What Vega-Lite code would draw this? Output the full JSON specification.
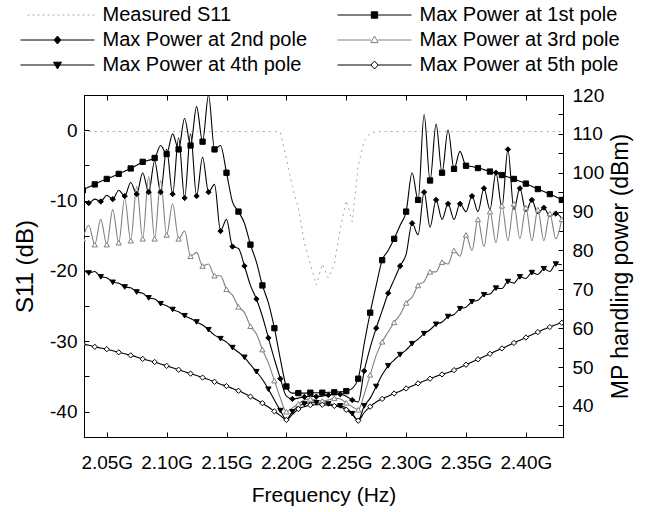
{
  "$schema": "https://vega.github.io/schema/vega-lite/v6.json",
  "width": 479,
  "height": 342,
  "autosize": {"type": "none"},
  "padding": {"left": 84, "top": 95, "right": 88, "bottom": 75},
  "background": "white",
  "config": {
    "view": {"stroke": "black", "strokeWidth": 1},
    "axis": {
      "labelFont": "Liberation Sans", "titleFont": "Liberation Sans",
      "labelFontSize": 19, "titleFontSize": 21, "titleFontWeight": "normal",
      "labelColor": "black", "titleColor": "black",
      "domainColor": "black", "tickColor": "black", "domainWidth": 1, "tickWidth": 1,
      "grid": false, "tickSize": -5, "labelFlush": false, "labelOverlap": false
    },
    "legend": {"labelFont": "Liberation Sans"}
  },
  "datasets": {
    "d": [
      {"f":2.030,"s11":-0.2,"p1":95.5,"p2":92.5,"p3":83,"p4":75.2,"p5":55.9},
      {"f":2.035,"s11":-0.2,"p1":96.3,"p2":92.2,"p3":86.5,"p4":74.2,"p5":55.6},
      {"f":2.040,"s11":-0.2,"p1":97.0,"p2":93.2,"p3":81.5,"p4":74.6,"p5":55.2},
      {"f":2.045,"s11":-0.2,"p1":97.8,"p2":92.6,"p3":88,"p4":73.2,"p5":54.9},
      {"f":2.050,"s11":-0.2,"p1":98.4,"p2":94.2,"p3":81.5,"p4":73.0,"p5":54.6},
      {"f":2.055,"s11":-0.2,"p1":99.0,"p2":93.2,"p3":90.5,"p4":71.8,"p5":54.2},
      {"f":2.060,"s11":-0.2,"p1":99.7,"p2":95.5,"p3":82,"p4":71.6,"p5":53.8},
      {"f":2.065,"s11":-0.2,"p1":100.4,"p2":94,"p3":93.5,"p4":70.6,"p5":53.4},
      {"f":2.070,"s11":-0.2,"p1":101.1,"p2":97.5,"p3":82.5,"p4":70.4,"p5":53},
      {"f":2.075,"s11":-0.2,"p1":101.9,"p2":94.5,"p3":96.5,"p4":69.3,"p5":52.6},
      {"f":2.080,"s11":-0.2,"p1":102.8,"p2":100,"p3":83,"p4":69,"p5":52.1},
      {"f":2.085,"s11":-0.2,"p1":103.2,"p2":95,"p3":99,"p4":67.8,"p5":51.7},
      {"f":2.090,"s11":-0.2,"p1":103.8,"p2":103,"p3":83,"p4":67.5,"p5":51.3},
      {"f":2.095,"s11":-0.2,"p1":107,"p2":95,"p3":98,"p4":66.3,"p5":50.8},
      {"f":2.100,"s11":-0.2,"p1":104.8,"p2":106,"p3":84,"p4":65.8,"p5":50.3},
      {"f":2.105,"s11":-0.2,"p1":110,"p2":94.5,"p3":92,"p4":64.8,"p5":49.8},
      {"f":2.110,"s11":-0.2,"p1":106,"p2":109,"p3":83,"p4":64.2,"p5":49.3},
      {"f":2.115,"s11":-0.2,"p1":114,"p2":93.5,"p3":85,"p4":63.2,"p5":48.8},
      {"f":2.120,"s11":-0.2,"p1":107,"p2":110,"p3":78.5,"p4":62.5,"p5":48.3},
      {"f":2.125,"s11":-0.2,"p1":117,"p2":94,"p3":79.5,"p4":61.6,"p5":47.8},
      {"f":2.130,"s11":-0.2,"p1":108,"p2":104,"p3":76,"p4":60.8,"p5":47.3},
      {"f":2.135,"s11":-0.2,"p1":120,"p2":95,"p3":76.5,"p4":59.6,"p5":46.8},
      {"f":2.140,"s11":-0.2,"p1":106,"p2":97,"p3":73.5,"p4":58.2,"p5":46.2},
      {"f":2.145,"s11":-0.2,"p1":107,"p2":85,"p3":73.5,"p4":57.3,"p5":45.6},
      {"f":2.150,"s11":-0.2,"p1":100,"p2":88,"p3":70,"p4":56.4,"p5":45.1},
      {"f":2.155,"s11":-0.2,"p1":92.5,"p2":81,"p3":68.5,"p4":55,"p5":44.5},
      {"f":2.160,"s11":-0.2,"p1":90,"p2":80.5,"p3":65.5,"p4":53.8,"p5":43.9},
      {"f":2.165,"s11":-0.2,"p1":87,"p2":76,"p3":64,"p4":52.5,"p5":43.2},
      {"f":2.170,"s11":-0.2,"p1":81.5,"p2":71,"p3":60.5,"p4":50.6,"p5":42.4},
      {"f":2.175,"s11":-0.2,"p1":77,"p2":67.5,"p3":58.5,"p4":48.8,"p5":41.6},
      {"f":2.180,"s11":-0.2,"p1":71,"p2":63,"p3":54.5,"p4":46.8,"p5":40.7},
      {"f":2.185,"s11":-0.2,"p1":66.5,"p2":57.5,"p3":51,"p4":44.3,"p5":39.7},
      {"f":2.190,"s11":-0.2,"p1":60,"p2":52,"p3":46.5,"p4":41.5,"p5":38.6},
      {"f":2.195,"s11":-0.3,"p1":52,"p2":47,"p3":42,"p4":38.8,"p5":37.5},
      {"f":2.200,"s11":-4,"p1":45,"p2":42.5,"p3":38.5,"p4":36.5,"p5":36.4},
      {"f":2.205,"s11":-8,"p1":43.3,"p2":41.8,"p3":39.5,"p4":38.5,"p5":37.8},
      {"f":2.210,"s11":-11,"p1":43.3,"p2":42,"p3":40.5,"p4":40,"p5":39.2},
      {"f":2.215,"s11":-16,"p1":43.3,"p2":42.3,"p3":41.5,"p4":40.5,"p5":39.8},
      {"f":2.220,"s11":-19,"p1":43.4,"p2":42.5,"p3":41.8,"p4":40.8,"p5":40.2},
      {"f":2.225,"s11":-22,"p1":43.4,"p2":42.4,"p3":41.5,"p4":40.8,"p5":40.3},
      {"f":2.230,"s11":-19,"p1":43.4,"p2":42.5,"p3":41.3,"p4":40.6,"p5":40.3},
      {"f":2.235,"s11":-21,"p1":43.5,"p2":42.8,"p3":41.5,"p4":40.5,"p5":40.2},
      {"f":2.240,"s11":-19,"p1":43.5,"p2":43,"p3":42,"p4":40.3,"p5":40},
      {"f":2.245,"s11":-14,"p1":43.6,"p2":43,"p3":41.8,"p4":40,"p5":39.7},
      {"f":2.250,"s11":-10,"p1":43.8,"p2":42.5,"p3":40.8,"p4":39.5,"p5":39},
      {"f":2.255,"s11":-13,"p1":44.5,"p2":41.5,"p3":39.8,"p4":38,"p5":37.8},
      {"f":2.260,"s11":-5,"p1":47,"p2":41,"p3":39,"p4":36.3,"p5":36.2},
      {"f":2.265,"s11":-1.5,"p1":56,"p2":49,"p3":43,"p4":40,"p5":38.3},
      {"f":2.270,"s11":-0.4,"p1":64,"p2":55,"p3":48,"p4":42,"p5":39.8},
      {"f":2.275,"s11":-0.2,"p1":71,"p2":60,"p3":53,"p4":45,"p5":41},
      {"f":2.280,"s11":-0.2,"p1":77.5,"p2":64.5,"p3":56.5,"p4":48,"p5":41.8},
      {"f":2.285,"s11":-0.2,"p1":80,"p2":69,"p3":59,"p4":50.3,"p5":42.5},
      {"f":2.290,"s11":-0.2,"p1":83,"p2":72.5,"p3":61.5,"p4":51.8,"p5":43.2},
      {"f":2.295,"s11":-0.2,"p1":86.5,"p2":76,"p3":63.5,"p4":53.2,"p5":43.8},
      {"f":2.300,"s11":-0.2,"p1":90,"p2":79,"p3":66.5,"p4":54.4,"p5":44.5},
      {"f":2.305,"s11":-0.2,"p1":100,"p2":87,"p3":68,"p4":56,"p5":45.1},
      {"f":2.310,"s11":-0.2,"p1":93,"p2":84,"p3":71,"p4":57.2,"p5":45.8},
      {"f":2.315,"s11":-0.2,"p1":115,"p2":95,"p3":72,"p4":58.6,"p5":46.4},
      {"f":2.320,"s11":-0.2,"p1":98,"p2":86,"p3":74.5,"p4":59.6,"p5":47},
      {"f":2.325,"s11":-0.2,"p1":112.5,"p2":93,"p3":74.5,"p4":61,"p5":47.6},
      {"f":2.330,"s11":-0.2,"p1":100,"p2":88,"p3":77,"p4":61.6,"p5":48.1},
      {"f":2.335,"s11":-0.2,"p1":111,"p2":92,"p3":76.5,"p4":63,"p5":48.6},
      {"f":2.340,"s11":-0.2,"p1":101,"p2":88,"p3":80,"p4":63.5,"p5":49.2},
      {"f":2.345,"s11":-0.2,"p1":105.5,"p2":92,"p3":78.5,"p4":65,"p5":49.9},
      {"f":2.350,"s11":-0.2,"p1":101.8,"p2":90,"p3":84,"p4":65.4,"p5":50.6},
      {"f":2.355,"s11":-0.2,"p1":101.6,"p2":94,"p3":80,"p4":66.8,"p5":51.3},
      {"f":2.360,"s11":-0.2,"p1":101.2,"p2":90,"p3":88,"p4":67.2,"p5":52},
      {"f":2.365,"s11":-0.2,"p1":100.8,"p2":96,"p3":81,"p4":68.6,"p5":52.7},
      {"f":2.370,"s11":-0.2,"p1":100.3,"p2":90.5,"p3":90,"p4":68.8,"p5":53.4},
      {"f":2.375,"s11":-0.2,"p1":99.9,"p2":100,"p3":82,"p4":70.3,"p5":54.1},
      {"f":2.380,"s11":-0.2,"p1":99.4,"p2":91,"p3":91.5,"p4":70.2,"p5":54.8},
      {"f":2.385,"s11":-0.2,"p1":98.9,"p2":106,"p3":82.5,"p4":72,"p5":55.5},
      {"f":2.390,"s11":-0.2,"p1":98.4,"p2":90.5,"p3":92,"p4":71.6,"p5":56.2},
      {"f":2.395,"s11":-0.2,"p1":97.8,"p2":96,"p3":83,"p4":73.2,"p5":56.9},
      {"f":2.400,"s11":-0.2,"p1":97.2,"p2":90,"p3":91,"p4":72.8,"p5":57.6},
      {"f":2.405,"s11":-0.2,"p1":96.5,"p2":93,"p3":82.5,"p4":74.3,"p5":58.3},
      {"f":2.410,"s11":-0.2,"p1":95.8,"p2":89.5,"p3":90.5,"p4":73.8,"p5":59},
      {"f":2.415,"s11":-0.2,"p1":95.2,"p2":91,"p3":82.5,"p4":75.3,"p5":59.7},
      {"f":2.420,"s11":-0.2,"p1":94.5,"p2":88.8,"p3":89.5,"p4":74.6,"p5":60.3},
      {"f":2.425,"s11":-0.2,"p1":93.8,"p2":89.5,"p3":83,"p4":76.5,"p5":60.9},
      {"f":2.430,"s11":-0.2,"p1":93,"p2":88.3,"p3":88,"p4":76.3,"p5":61.4}
    ]
  },
  "resolve": {"scale": {"y": "independent"}, "axis": {"x": "independent"}},
  "layer": [
    {
      "data": {"name": "d"},
      "transform": [{"fold": ["s11"], "as": ["k", "v"]}],
      "mark": {"type": "line", "clip": true, "strokeDash": [2, 4], "strokeWidth": 1},
      "encoding": {
        "x": {
          "field": "f", "type": "quantitative",
          "scale": {"domain": [2.031, 2.431], "nice": false, "zero": false},
          "axis": {
            "orient": "bottom", "values": [2.05, 2.1, 2.15, 2.2, 2.25, 2.3, 2.35, 2.4],
            "labelExpr": "format(datum.value, '.2f') + 'G'", "labelPadding": 21,
            "title": "Frequency (Hz)", "titleY": 58, "titleBaseline": "middle"
          }
        },
        "y": {
          "field": "v", "type": "quantitative",
          "scale": {"domain": [-43.6, 5], "nice": false, "zero": false},
          "axis": {
            "orient": "left", "values": [-40, -35, -30, -25, -20, -15, -10, -5, 0],
            "labelExpr": "datum.value % 10 == 0 ? '' + datum.value : ''", "labelPadding": 12,
            "title": "S11 (dB)", "titleFontSize": 24, "titleX": -59, "titleY": 171,
            "titleAngle": -90, "titleBaseline": "middle", "titleAlign": "center"
          }
        },
        "stroke": {
          "field": "k", "type": "nominal",
          "scale": {"domain": ["s11", "p1", "p2", "p3", "p4", "p5"], "range": ["#a6a6a6", "black", "black", "#808080", "black", "black"]},
          "legend": {
            "title": null, "orient": "none", "legendX": -64, "legendY": -90, "columns": 2, "direction": "horizontal",
            "columnPadding": 27, "rowPadding": 5, "padding": 0, "offset": 0,
            "labelFontSize": 20, "labelColor": "black", "labelFont": "Liberation Sans", "labelLimit": 400,
            "labelOffset": 35, "symbolOffset": 27.5, "symbolSize": 64, "symbolStrokeWidth": 1,
            "labelExpr": "datum.value == 's11' ? 'Measured S11' : datum.value == 'p1' ? 'Max Power at 1st pole' : datum.value == 'p2' ? 'Max Power at 2nd pole' : datum.value == 'p3' ? 'Max Power at 3rd pole' : datum.value == 'p4' ? 'Max Power at 4th pole' : 'Max Power at 5th pole'",
            "encode": {
              "symbols": {
                "update": {
                  "shape": {"signal": "datum.value == 's11' ? 'M-7.5,0H9.25' : datum.value == 'p1' ? 'M-9.25,0H9.25M-0.8,-0.8H0.8V0.8H-0.8Z' : datum.value == 'p3' ? 'M-9.25,0H-0.85M0.85,0H9.25M0,-1L0.9,0.65L-0.9,0.65Z' : datum.value == 'p4' ? 'M-9.25,0H9.25M-1,-0.7L1,-0.7L0,1Z' : datum.value == 'p5' ? 'M-9.25,0H-0.9M0.9,0H9.25M0,-1L0.9,0L0,1L-0.9,0Z' : 'M-9.25,0H9.25M0,-1L0.85,0L0,1L-0.85,0Z'"},
                  "fill": {"signal": "datum.value == 'p3' || datum.value == 'p5' ? 'white' : datum.value == 's11' ? 'transparent' : 'black'"},
                  "strokeDash": {"signal": "datum.value == 's11' ? [2, 3] : null"},
                  "opacity": {"value": 1}
                }
              }
            }
          }
        }
      }
    },
    {
      "data": {"name": "d"},
      "transform": [{"fold": ["p1", "p2", "p3", "p4", "p5"], "as": ["k", "v"]}],
      "layer": [
        {
          "mark": {"type": "line", "clip": true, "strokeWidth": 1.1, "interpolate": "monotone"},
          "encoding": {
            "x": {
              "field": "f", "type": "quantitative",
              "scale": {"domain": [2.031, 2.431], "nice": false, "zero": false},
              "axis": {"orient": "top", "values": [2.05, 2.1, 2.15, 2.2, 2.25, 2.3, 2.35, 2.4], "labels": false, "title": null}
            },
            "y": {
              "field": "v", "type": "quantitative",
              "scale": {"domain": [32, 120], "nice": false, "zero": false},
              "axis": {
                "orient": "right", "values": [35, 40, 45, 50, 55, 60, 65, 70, 75, 80, 85, 90, 95, 100, 105, 110, 115, 120],
                "labelExpr": "datum.value % 10 == 0 ? '' + datum.value : ''", "labelPadding": 14,
                "title": "MP handling power (dBm)", "titleFontSize": 23, "titleX": 57, "titleY": 171,
                "titleAngle": -90, "titleBaseline": "middle", "titleAlign": "center"
              }
            },
            "stroke": {
              "field": "k", "type": "nominal",
              "scale": {"domain": ["s11", "p1", "p2", "p3", "p4", "p5"], "range": ["#a6a6a6", "black", "black", "#808080", "black", "black"]}
            }
          }
        },
        {
          "transform": [{"filter": "(datum.k == 'p2' || datum.k == 'p4') ? (round(datum.f * 1000) % 10 == 5) : (round(datum.f * 1000) % 10 == 0)"}],
          "mark": {"type": "point", "clip": true, "size": 28, "strokeWidth": 1, "opacity": 1},
          "encoding": {
            "x": {
              "field": "f", "type": "quantitative",
              "scale": {"domain": [2.031, 2.431], "nice": false, "zero": false},
              "axis": {"orient": "top", "values": [2.05, 2.1, 2.15, 2.2, 2.25, 2.3, 2.35, 2.4], "labels": false, "title": null}
            },
            "y": {
              "field": "v", "type": "quantitative",
              "scale": {"domain": [32, 120], "nice": false, "zero": false},
              "axis": {
                "orient": "right", "values": [35, 40, 45, 50, 55, 60, 65, 70, 75, 80, 85, 90, 95, 100, 105, 110, 115, 120],
                "labelExpr": "datum.value % 10 == 0 ? '' + datum.value : ''", "labelPadding": 14,
                "title": "MP handling power (dBm)", "titleFontSize": 23, "titleX": 57, "titleY": 171,
                "titleAngle": -90, "titleBaseline": "middle", "titleAlign": "center"
              }
            },
            "stroke": {
              "field": "k", "type": "nominal",
              "scale": {"domain": ["s11", "p1", "p2", "p3", "p4", "p5"], "range": ["#a6a6a6", "black", "black", "#808080", "black", "black"]}
            },
            "shape": {
              "field": "k", "type": "nominal",
              "scale": {"domain": ["p1", "p2", "p3", "p4", "p5"], "range": ["square", "diamond", "triangle-up", "triangle-down", "diamond"]},
              "legend": null
            },
            "fill": {
              "field": "k", "type": "nominal",
              "scale": {"domain": ["p1", "p2", "p3", "p4", "p5"], "range": ["black", "black", "white", "black", "white"]},
              "legend": null
            }
          }
        }
      ]
    }
  ]
}
